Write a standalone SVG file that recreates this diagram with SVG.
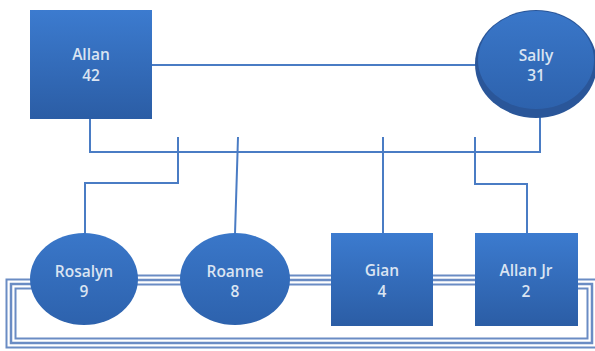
<svg xmlns="http://www.w3.org/2000/svg" width="595" height="351" viewBox="0 0 595 351">
<defs>
<linearGradient id="gs" x1="0" y1="0" x2="0" y2="1">
<stop offset="0" stop-color="#3c7bcf"/>
<stop offset="1" stop-color="#2b5da5"/>
</linearGradient>
<linearGradient id="ge" x1="0" y1="0" x2="0" y2="1">
<stop offset="0" stop-color="#3a77c9"/>
<stop offset="1" stop-color="#2d62ad"/>
</linearGradient>
</defs>
<style>
.ln{fill:none;stroke:#4a7cc4;stroke-width:2}
.t1{fill:none;stroke:#6a8cc4;stroke-width:11}
.t2{fill:none;stroke:#ffffff;stroke-width:7}
.t3{fill:none;stroke:#6a8cc4;stroke-width:2.5}
.sq{fill:url(#gs)}
.el{fill:url(#ge)}
text{font-family:"Open Sans","Liberation Sans",sans-serif;font-size:15.5px;font-weight:600;fill:#dae4f2;text-anchor:middle}
</style>
<g id="connectors">
<path class="ln" d="M152 65 H476"/>
<path class="ln" d="M90 119 V152 H540 V117"/>
<path class="ln" d="M178 137 V183 H85 V234"/>
<path class="ln" d="M238 137 L235 234"/>
<path class="ln" d="M383 137 V234"/>
<path class="ln" d="M475 137 V184 H527 V234"/>
<g id="triple">
<path class="t1" d="M32 284 H11 V343 H592 V284 H576"/>
<path class="t1" d="M136 280 H182 M288 280 H333 M431 280 H477"/>
<path class="t2" d="M32 284 H11 V343 H592 V284 H576"/>
<path class="t2" d="M136 280 H182 M288 280 H333 M431 280 H477"/>
<path class="t3" d="M32 284 H11 V343 H592 V284 H576"/>
<path class="t3" d="M136 280 H182 M288 280 H333 M431 280 H477"/>
</g>
</g>
<g id="allan">
<rect class="sq" x="30" y="10" width="122" height="109"/>
<text x="91" y="60">Allan</text>
<text x="91" y="81">42</text>
</g>
<g id="sally">
<ellipse cx="536" cy="64" rx="61" ry="54" fill="#2a5699"/>
<ellipse class="el" cx="536" cy="60" rx="58" ry="49"/>
<text x="536" y="61">Sally</text>
<text x="536" y="81">31</text>
</g>
<g id="rosalyn">
<ellipse class="el" cx="84" cy="279" rx="54" ry="46"/>
<text x="84" y="277">Rosalyn</text>
<text x="84" y="297">9</text>
</g>
<g id="roanne">
<ellipse class="el" cx="235" cy="279" rx="55" ry="46"/>
<text x="235" y="277">Roanne</text>
<text x="235" y="297">8</text>
</g>
<g id="gian">
<rect class="sq" x="331" y="233" width="102" height="93"/>
<text x="382" y="276">Gian</text>
<text x="382" y="297">4</text>
</g>
<g id="allanjr">
<rect class="sq" x="475" y="233" width="103" height="93"/>
<text x="526" y="276">Allan Jr</text>
<text x="526" y="297">2</text>
</g>
</svg>
